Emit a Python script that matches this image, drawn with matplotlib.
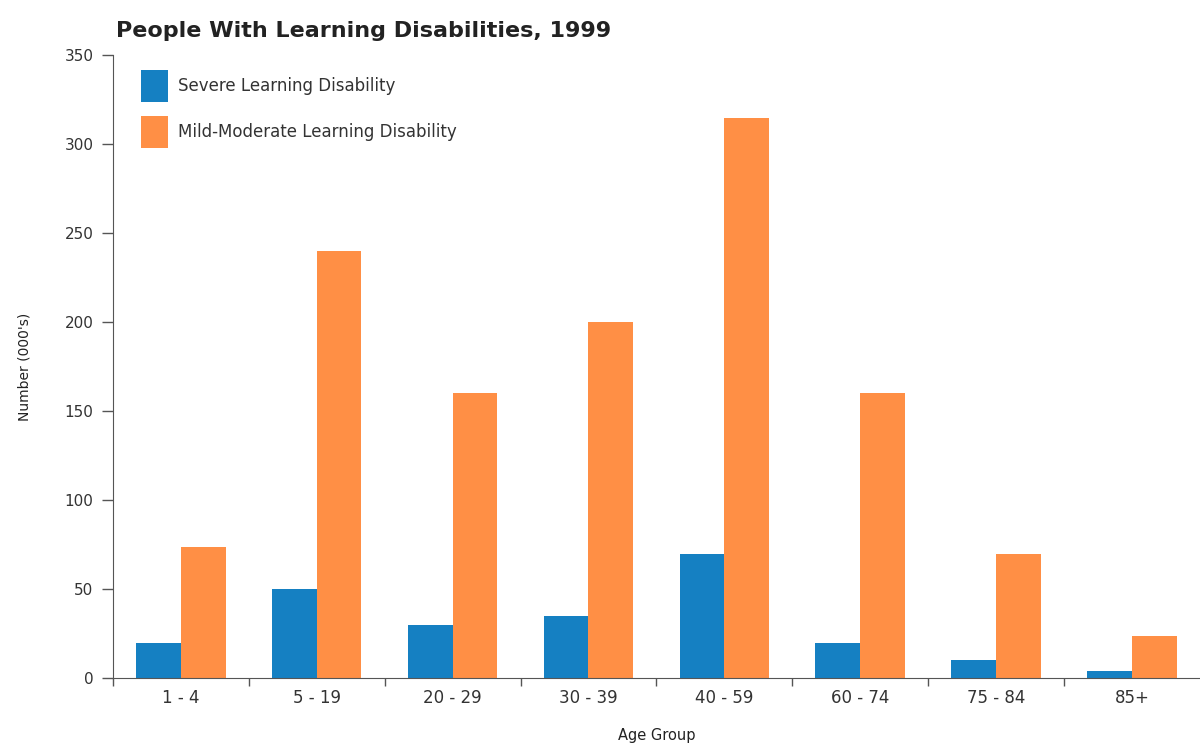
import matplotlib
matplotlib.use("Agg")
import matplotlib.pyplot as plt
import numpy as np

age_groups = ["1 - 4", "5 - 19", "20 - 29", "30 - 39", "40 - 59", "60 - 74", "75 - 84", "85+"]
severe = [20, 50, 30, 35, 70, 20, 10, 4]
mild_moderate = [74, 240, 160, 200, 315, 160, 70, 24]

blue = "#1580c2"
orange = "#ff8f45"

fig = plt.figure(figsize=(12, 7.47), dpi=100)
ax = fig.add_axes([0.094, 0.092, 0.906, 0.834])

x = np.arange(len(age_groups))
w = 0.33
ax.bar(x - w / 2, severe, w, color=blue, label="Severe Learning Disability")
ax.bar(x + w / 2, mild_moderate, w, color=orange, label="Mild-Moderate Learning Disability")

ax.set_xlim(-0.5, 7.5)
ax.set_ylim(0, 350)
ax.set_yticks(range(0, 351, 50))

# ticks sit between the groups, labels at the group centres
ax.set_xticks(np.arange(-0.5, 7.5, 1.0))
ax.set_xticklabels([])
ax.set_xticks(x, minor=True)
ax.set_xticklabels(age_groups, minor=True, fontsize=12, color="#333333")
ax.tick_params(axis="x", which="minor", length=0, pad=8)
ax.tick_params(axis="x", which="major", length=6, width=1, color="#555555")
ax.tick_params(axis="y", length=8, width=1, color="#555555", labelsize=11, labelcolor="#333333", pad=6)

for s in ["top", "right"]:
    ax.spines[s].set_visible(False)
ax.spines["left"].set_color("#555555")
ax.spines["bottom"].set_color("#555555")

ax.set_ylabel("Number (000's)", fontsize=10, color="#222222", labelpad=24)
ax.set_xlabel("Age Group", fontsize=10.5, color="#222222", labelpad=15)

fig.text(0.097, 0.958, "People With Learning Disabilities, 1999", fontsize=16,
         fontweight="bold", color="#222222", va="center")

leg = ax.legend(loc="upper left", bbox_to_anchor=(0.012, 1.0), frameon=False,
                fontsize=12, handlelength=1.6, handleheight=2.55, labelspacing=0.85,
                handletextpad=0.6)
for t in leg.get_texts():
    t.set_color("#333333")

fig.savefig("out.png", dpi=100)
